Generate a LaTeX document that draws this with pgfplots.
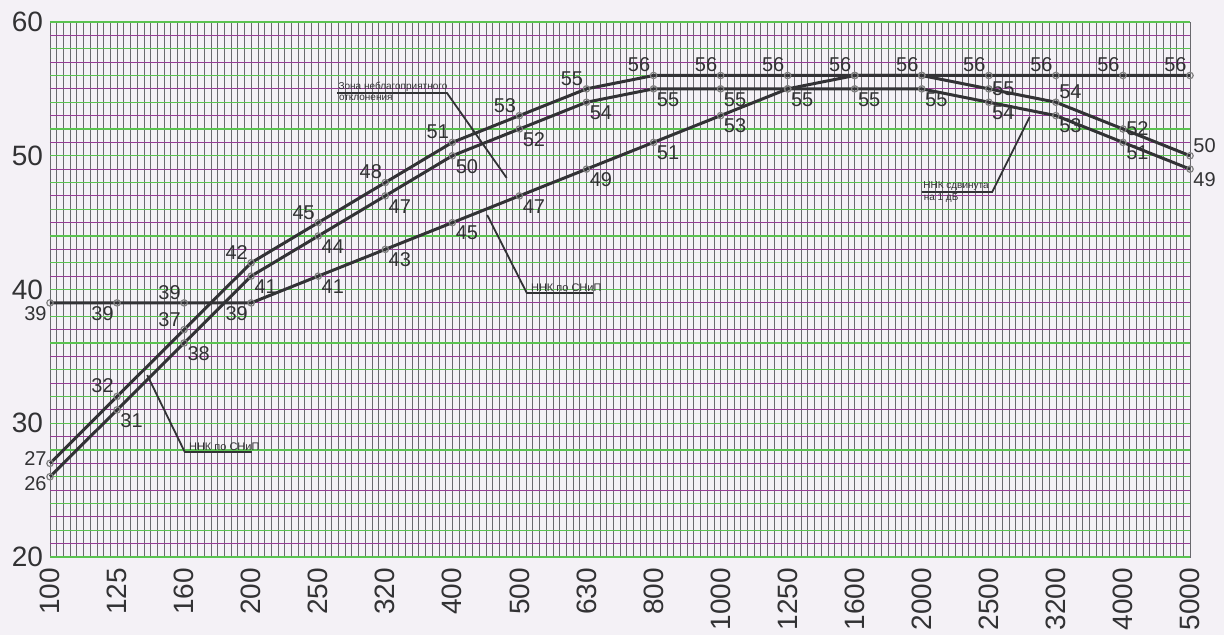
\documentclass[border=0pt]{standalone}
\usepackage{fontspec}
\setmainfont{Liberation Sans}
\usepackage{pgfplots}
\pgfplotsset{compat=1.18}
\usepackage{pgfplotstable}

\definecolor{bg}{RGB}{244,241,246}
\definecolor{gridgreen}{RGB}{90,195,80}
\definecolor{gridpurple}{RGB}{150,60,150}
\definecolor{gridgray}{RGB}{105,105,110}
\definecolor{curve}{RGB}{50,50,53}
\definecolor{txt}{RGB}{50,50,52}

% Curve A (upper), B (lower), C (measured)
\pgfplotstableread{
x y
0 27
1 32
2 37
3 42
4 45
5 48
6 51
7 53
8 55
9 56
10 56
11 56
12 56
13 56
14 55
15 54
16 52
17 50
}\curveA
\pgfplotstableread{
x y
0 26
1 31
2 36
3 41
4 44
5 47
6 50
7 52
8 54
9 55
10 55
11 55
12 55
13 55
14 54
15 53
16 51
17 49
}\curveB
\pgfplotstableread{
x y
0 39
1 39
2 39
3 39
4 41
5 43
6 45
7 47
8 49
9 51
10 53
11 55
12 56
13 56
14 56
15 56
16 56
17 56
}\curveC

% value labels, grouped by placement
\pgfplotstableread{
x y lab
0 27 27
}\labEup
\pgfplotstableread{
x y lab
0 26 26
}\labEdown
\pgfplotstableread{
x y lab
1 32 32
2 37 37
3 42 42
4 45 45
5 48 48
6 51 51
7 53 53
8 55 55
9 56 56
10 56 56
11 56 56
12 56 56
13 56 56
2 39 39
14 56 56
15 56 56
16 56 56
17 56 56
}\labSE
\pgfplotstableread{
x y lab
14 55 55
16 52 52
}\labW
\pgfplotstableread{
x y lab
15 54 54
17 50 50
}\labSW
\pgfplotstableread{
x y lab
1 31 31
2 36 38
3 41 41
4 44 44
5 47 47
6 50 50
7 52 52
8 54 54
9 55 55
10 55 55
11 55 55
12 55 55
13 55 55
14 54 54
15 53 53
16 51 51
17 49 49
4 41 41
5 43 43
6 45 45
7 47 47
8 49 49
9 51 51
10 53 53
}\labNW
\pgfplotstableread{
x y lab
0 39 39
1 39 39
3 39 39
}\labNE

\begin{document}
\begin{tikzpicture}
\path[use as bounding box, fill=bg] (-25pt,-39pt) rectangle (587pt,278.5pt);
\begin{axis}[
  at={(0,0)}, anchor=south west,
  scale only axis, width=570pt, height=267.5pt,
  xmin=0, xmax=17, ymin=20, ymax=60,
  xtick={0,...,17},
  xticklabels={100,125,160,200,250,320,400,500,630,800,1000,1250,1600,2000,2500,3200,4000,5000},
  minor x tick num=9,
  ytick={20,30,40,50,60},
  xmajorgrids, xminorgrids,
  major grid style={gridgray, line width=0.38pt},
  minor grid style={gridgray, line width=0.38pt},
  major tick length=0pt, minor tick length=0pt,
  axis line style={gridgray, line width=0.4pt},
  /pgf/number format/assume math mode=true,
  tick label style={font=\fontsize{14}{14}\selectfont, text=txt},
  x tick label style={rotate=90, anchor=east},
  xticklabel shift=2pt,
  yticklabel shift=0pt,
  clip=false,
  lab/.style={only marks, mark=none, point meta=explicit symbolic, nodes near coords,
    nodes near coords style={font=\fontsize{10}{10}\selectfont, text=txt, inner sep=1.5pt, anchor=#1}},
]
\pgfplotsinvokeforeach{20,22,...,60}{\draw[gridgreen, line width=0.6pt] (axis cs:0,#1) -- (axis cs:17,#1);}
\pgfplotsinvokeforeach{21,23,...,59}{\draw[gridpurple, line width=0.6pt] (axis cs:0,#1) -- (axis cs:17,#1);}

\addplot[curve, line width=1.5pt, mark=o, mark size=1.6pt, mark options={gray, line width=0.6pt, fill=bg}] table[x=x,y=y]{\curveA};
\addplot[curve, line width=1.5pt, mark=o, mark size=1.6pt, mark options={gray, line width=0.6pt, fill=bg}] table[x=x,y=y]{\curveB};
\addplot[curve, line width=1.5pt, mark=o, mark size=1.6pt, mark options={gray, line width=0.6pt, fill=bg}] table[x=x,y=y]{\curveC};

\addplot[lab=east, nodes near coords style={yshift=2.5pt}] table[x=x,y=y,meta=lab]{\labEup};
\addplot[lab=east, nodes near coords style={yshift=-3.5pt}] table[x=x,y=y,meta=lab]{\labEdown};
\addplot[lab=south east] table[x=x,y=y,meta=lab]{\labSE};
\addplot[lab=west] table[x=x,y=y,meta=lab]{\labW};
\addplot[lab=south west] table[x=x,y=y,meta=lab]{\labSW};
\addplot[lab=north west] table[x=x,y=y,meta=lab]{\labNW};
\addplot[lab=north east] table[x=x,y=y,meta=lab]{\labNE};

% annotations
\draw[curve, line width=0.9pt] (axis cs:4.28,54.69) -- (axis cs:5.92,54.69) -- (axis cs:6.81,48.34);
\node[anchor=south west, inner sep=0.6pt, text=txt, font=\fontsize{5}{5}\selectfont] at (axis cs:4.28,54.69) {Зона неблагоприятного};
\node[anchor=north west, inner sep=0.8pt, text=txt, font=\fontsize{5}{5}\selectfont] at (axis cs:4.28,54.69) {отклонения};

\draw[curve, line width=0.9pt] (axis cs:1.45,33.6) -- (axis cs:2.01,27.85) -- (axis cs:3.01,27.85);
\node[anchor=south west, inner sep=0.6pt, text=txt, font=\fontsize{5.5}{5.5}\selectfont] at (axis cs:2.05,27.85) {ННК по СНиП};

\draw[curve, line width=0.9pt] (axis cs:6.52,45.57) -- (axis cs:7.11,39.74) -- (axis cs:8.10,39.74);
\node[anchor=south west, inner sep=0.6pt, text=txt, font=\fontsize{5.5}{5.5}\selectfont] at (axis cs:7.15,39.74) {ННК по СНиП};

\draw[curve, line width=0.9pt] (axis cs:13.0,47.29) -- (axis cs:14.05,47.29) -- (axis cs:14.61,52.9);
\node[anchor=south west, inner sep=0.6pt, text=txt, font=\fontsize{5}{5}\selectfont] at (axis cs:13.0,47.29) {ННК сдвинута};
\node[anchor=north west, inner sep=0.8pt, text=txt, font=\fontsize{5}{5}\selectfont] at (axis cs:13.0,47.29) {на 1 дБ};
\end{axis}
\end{tikzpicture}
\end{document}
